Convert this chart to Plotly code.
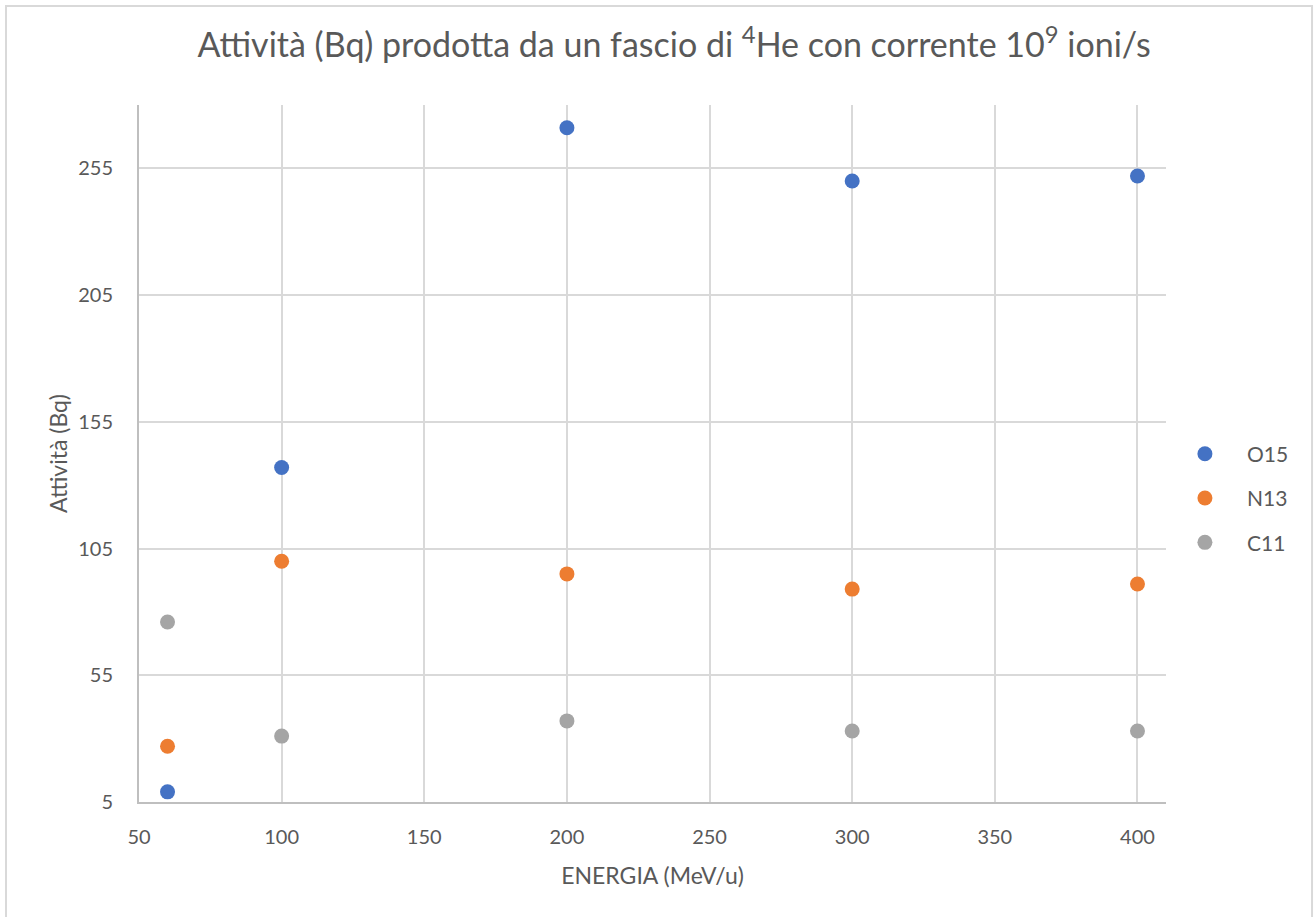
import plotly.graph_objects as go

energia = [60, 100, 200, 300, 400]
o15 = [9, 137, 271, 250, 252]
n13 = [27, 100, 95, 89, 91]
c11 = [76, 31, 37, 33, 33]

series_names = ["O15", "N13", "C11"]
series_vals = [o15, n13, c11]
colors = ["#4472C4", "#ED7D31", "#A5A5A5"]

y_ticks = [5, 55, 105, 155, 205, 255]
x_ticks = [50, 100, 150, 200, 250, 300, 350, 400]

FONT = "Lato, 'Open Sans', sans-serif"

fig = go.Figure()
for name, vals, col in zip(series_names, series_vals, colors):
    fig.add_trace(go.Scatter(
        x=energia, y=vals, mode="markers", name=name, legendgroup=name,
        marker=dict(size=15, color=col, line=dict(width=0)),
    ))

fig.update_layout(
    width=1314, height=917,
    paper_bgcolor="white", plot_bgcolor="white",
    margin=dict(l=139, r=148, t=105, b=115),
    font=dict(family=FONT, color="#595959", size=20),
    title=dict(
        text="Attività (Bq) prodotta da un fascio di <sup>4</sup>He con corrente 10<sup>9</sup> ioni/s",
        x=0.513, xanchor="center", y=0.951, yanchor="middle",
        font=dict(family=FONT, size=34, color="#595959"),
    ),
    xaxis=dict(
        range=[50, 410], tickvals=x_ticks, showgrid=True, gridcolor="#d9d9d9", gridwidth=1.5,
        showline=True, linecolor="#bfbfbf", linewidth=2, zeroline=False,
        ticks="outside", ticklen=16, tickcolor="rgba(0,0,0,0)",
        tickfont=dict(size=20, color="#595959"),
        title=dict(text="ENERGIA (MeV/u)", font=dict(size=23, color="#595959"), standoff=21),
    ),
    yaxis=dict(
        range=[5, 280], tickvals=y_ticks, showgrid=True, gridcolor="#d9d9d9", gridwidth=1.5,
        showline=True, linecolor="#bfbfbf", linewidth=2, zeroline=False,
        ticks="outside", ticklen=20, tickcolor="rgba(0,0,0,0)",
        tickfont=dict(size=20, color="#595959"),
        title=dict(text="Attività (Bq)", font=dict(size=23, color="#595959"), standoff=4),
    ),
    legend=dict(
        x=0.997, xanchor="left", y=0.436, yanchor="middle",
        font=dict(size=21, color="#595959"), tracegroupgap=14,
        itemwidth=74, bgcolor="rgba(0,0,0,0)",
    ),
    showlegend=True,
)

fig.add_shape(type="rect", xref="paper", yref="paper",
              x0=-0.1295, x1=1.1422, y0=-0.3, y1=1.142,
              line=dict(color="#d9d9d9", width=2), fillcolor="rgba(0,0,0,0)", layer="below")

fig.write_html("out.html", post_script="document.body.style.margin='0px';",
               config={"displayModeBar": False})
